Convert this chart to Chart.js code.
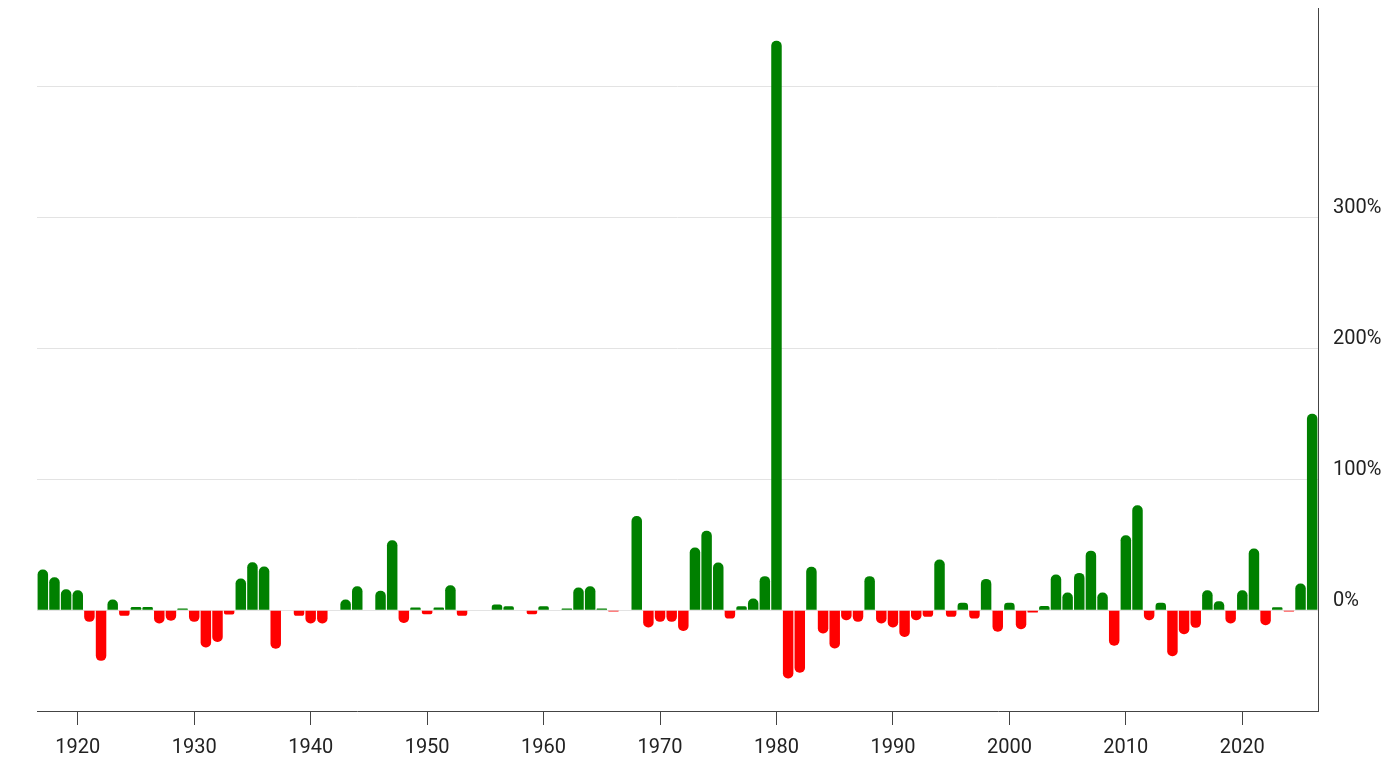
<!DOCTYPE html>
<html>
<head>
<meta charset="utf-8">
<script src="https://cdn.jsdelivr.net/npm/chart.js@4.4.0/dist/chart.umd.min.js"></script>
<style>
  html, body { margin: 0; padding: 0; background: #ffffff; }
  #wrap { width: 1395px; height: 764px; }
</style>
</head>
<body>
<div id="wrap"><canvas id="c" width="1395" height="764"></canvas></div>
<script>
const years = [
  1917, 1918, 1919,
  1920, 1921, 1922, 1923, 1924, 1925, 1926, 1927, 1928, 1929,
  1930, 1931, 1932, 1933, 1934, 1935, 1936, 1937, 1938, 1939,
  1940, 1941, 1942, 1943, 1944, 1945, 1946, 1947, 1948, 1949,
  1950, 1951, 1952, 1953, 1954, 1955, 1956, 1957, 1958, 1959,
  1960, 1961, 1962, 1963, 1964, 1965, 1966, 1967, 1968, 1969,
  1970, 1971, 1972, 1973, 1974, 1975, 1976, 1977, 1978, 1979,
  1980, 1981, 1982, 1983, 1984, 1985, 1986, 1987, 1988, 1989,
  1990, 1991, 1992, 1993, 1994, 1995, 1996, 1997, 1998, 1999,
  2000, 2001, 2002, 2003, 2004, 2005, 2006, 2007, 2008, 2009,
  2010, 2011, 2012, 2013, 2014, 2015, 2016, 2017, 2018, 2019,
  2020, 2021, 2022, 2023, 2024, 2025, 2026
];

// annual change, percent
const changes = [
  31.0, 25.2, 16.0,
  15.3, -8.9, -38.7, 8.1, -4.3, 2.5, 2.5, -10.2, -8.1, 1.3,
  -8.9, -28.5, -24.2, -3.3, 24.2, 36.6, 33.3, -29.5, 0, -4.3,
  -10.2, -10.2, 0, 8.1, 18.3, 0, 14.8, 53.4, -9.7, 2.0,
  -3.1, 2.0, 19.1, -4.3, 0, 0, 4.3, 3.1, 0, -3.1,
  3.1, 0, 1.3, 17.3, 18.3, 1.3, -1.0, 0, 72.0, -13.2,
  -8.9, -8.9, -15.8, 47.8, 60.6, 36.4, -6.4, 3.1, 8.9, 26.0,
  435, -52.2, -47.8, 33.1, -17.8, -29.3, -7.6, -8.9, 26.0, -10.2,
  -13.2, -20.4, -7.6, -5.1, 38.7, -5.1, 5.6, -6.4, 23.9, -16.5,
  5.6, -14.5, -1.8, 3.3, 27.2, 13.5, 28.5, 45.5, 13.5, -27.2,
  57.3, 80.2, -7.6, 5.6, -35.1, -18.3, -13.5, 15.3, 6.9, -10.2,
  15.3, 47.1, -11.5, 2.3, -1.0, 20.4, 150
];

const yTickValues = [0, 100, 200, 300];

const UP = '#008000';
const DOWN = '#ff0000';
const FONT = 'Roboto, "Noto Sans", sans-serif';

new Chart(document.getElementById('c'), {
  type: 'bar',
  data: {
    labels: years.map(String),
    datasets: [{
      data: changes,
      backgroundColor: changes.map(v => v >= 0 ? UP : DOWN),
      borderWidth: 0,
      borderRadius: 5,
      barPercentage: 0.9,
      categoryPercentage: 1.0
    }]
  },
  options: {
    responsive: false,
    animation: false,
    devicePixelRatio: 1,
    layout: { padding: { left: 37, top: 8, right: 0, bottom: 0 } },
    plugins: {
      legend: { display: false },
      tooltip: { enabled: false },
      title: { display: false }
    },
    scales: {
      x: {
        type: 'category',
        offset: true,
        grid: {
          offset: false,
          drawOnChartArea: false,
          drawTicks: true,
          tickLength: 14,
          color: '#444444',
          lineWidth: 1
        },
        border: { display: true, color: '#444444', width: 1 },
        ticks: {
          autoSkip: false,
          maxRotation: 0,
          minRotation: 0,
          padding: 11,
          color: '#222222',
          font: { family: FONT, size: 20 },
          callback: function (value, index) {
            const y = years[index];
            return y % 10 === 0 ? String(y) : null;
          }
        },
        afterFit: function (scale) {
          scale.height = 53;
          scale.paddingLeft = 0;
          scale.paddingRight = 0;
        }
      },
      y: {
        position: 'right',
        min: -77,
        max: 460,
        grid: {
          drawTicks: false,
          color: '#e3e3e3',
          lineWidth: 1
        },
        border: { display: true, color: '#444444', width: 1 },
        ticks: {
          stepSize: 100,
          includeBounds: false,
          padding: 15,
          labelOffset: -9,
          color: '#222222',
          font: { family: FONT, size: 20 },
          callback: function (v) {
            return yTickValues.includes(v) ? v + '%' : '';
          }
        },
        afterFit: function (scale) {
          scale.width = 77;
          scale.paddingTop = 0;
          scale.paddingBottom = 0;
        }
      }
    }
  }
});
</script>
</body>
</html>
